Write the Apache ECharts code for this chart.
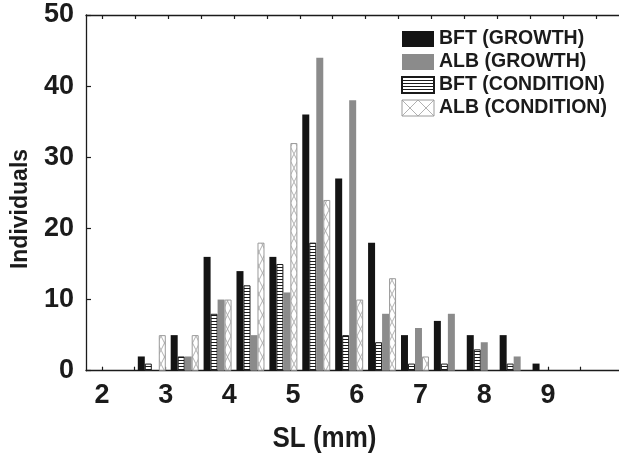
<!DOCTYPE html>
<html>
<head>
<meta charset="utf-8">
<script src="https://cdn.jsdelivr.net/npm/echarts@6/dist/echarts.min.js"></script>
<style>
  html, body { margin: 0; padding: 0; background: #fff; }
  #chart { width: 619px; height: 457px; }
</style>
</head>
<body>
<div id="chart"></div>
<script>
// Standard length bins (mm), one group of four bars per bin
const binCenters = [2.75, 3.25, 3.75, 4.25, 4.75, 5.25, 5.75, 6.25, 6.75, 7.25, 7.75, 8.25, 8.75];
const bftGrowth    = [2, 5, 16, 14, 16, 36, 27, 18, 5, 7, 5, 5, 1];
const bftCondition = [1, 2, 8, 12, 15, 18, 5, 4, 1, 1, 3, 1, 0];
const albGrowth    = [0, 2, 10, 5, 11, 44, 38, 8, 6, 8, 4, 2, 0];
const albCondition = [5, 5, 10, 18, 32, 24, 10, 13, 2, 0, 0, 0, 0];

const seriesNames = ['BFT (GROWTH)', 'BFT (CONDITION)', 'ALB (GROWTH)', 'ALB (CONDITION)'];
const legendOrder = ['BFT (GROWTH)', 'ALB (GROWTH)', 'BFT (CONDITION)', 'ALB (CONDITION)'];
const xTickValues  = [2, 2.5, 3, 3.5, 4, 4.5, 5, 5.5, 6, 6.5, 7, 7.5, 8, 8.5, 9, 9.5];
const xLabelValues = [2, 3, 4, 5, 6, 7, 8, 9];

const FONT = '"Liberation Sans", Arial, Helvetica, sans-serif';
const INK = '#1b1b1b';

// Fill patterns
function stripePattern() {
  const c = document.createElement('canvas');
  c.width = 4; c.height = 3;
  const g = c.getContext('2d');
  g.fillStyle = '#fff'; g.fillRect(0, 0, 4, 3);
  g.fillStyle = '#1a1a1a'; g.fillRect(0, 0, 4, 1);
  return { image: c, repeat: 'repeat' };
}
function crossPattern(w, h) {
  const c = document.createElement('canvas');
  c.width = w; c.height = h;
  const g = c.getContext('2d');
  g.fillStyle = '#fff'; g.fillRect(0, 0, w, h);
  g.strokeStyle = '#a8a8a8'; g.lineWidth = 0.9;
  g.beginPath();
  g.moveTo(0, 0); g.lineTo(w, h);
  g.moveTo(w, 0); g.lineTo(0, h);
  g.stroke();
  return { image: c, repeat: 'repeat' };
}

const styles = {
  'BFT (GROWTH)':    { color: '#141414' },
  'BFT (CONDITION)': { color: stripePattern(), borderColor: '#1a1a1a', borderWidth: 1 },
  'ALB (GROWTH)':    { color: '#8b8b8b' },
  'ALB (CONDITION)': { color: crossPattern(7, 14), borderColor: '#9a9a9a', borderWidth: 1 }
};
const values = {
  'BFT (GROWTH)': bftGrowth,
  'BFT (CONDITION)': bftCondition,
  'ALB (GROWTH)': albGrowth,
  'ALB (CONDITION)': albCondition
};

const chart = echarts.init(document.getElementById('chart'), null, { renderer: 'canvas' });

const axisLine = { show: true, lineStyle: { color: INK, width: 1.3 } };

const option = {
  backgroundColor: '#ffffff',
  animation: false,
  grid: { left: 86, top: 15, width: 541, height: 355.7, containLabel: false },
  legend: {
    orient: 'vertical',
    left: 396,
    top: 24,
    itemWidth: 32,
    itemHeight: 16,
    itemGap: 3,
    icon: 'rect',
    selectedMode: false,
    textStyle: { fontFamily: FONT, fontWeight: 'bold', fontSize: 19.5, color: INK },
    data: legendOrder.map(n => n === 'ALB (CONDITION)'
      ? { name: n, itemStyle: { color: crossPattern(16, 16), borderColor: '#9a9a9a', borderWidth: 1 } }
      : { name: n })
  },
  xAxis: [
    {
      // labelled length axis
      type: 'value',
      position: 'bottom',
      min: 1.75,
      max: 10.116,
      axisLine: axisLine,
      splitLine: { show: false },
      axisTick: { show: true, inside: true, length: 4, customValues: xTickValues, lineStyle: { color: INK, width: 1.2 } },
      axisLabel: {
        customValues: xLabelValues, margin: 11,
        fontFamily: FONT, fontWeight: 'bold', fontSize: 27, color: INK
      }
    },
    {
      // bin placement axis, drawn as the top frame
      type: 'value',
      position: 'top',
      min: 1.75,
      max: 9.851,
      axisLine: axisLine,
      splitLine: { show: false },
      axisTick: { show: true, inside: true, length: 4, customValues: xTickValues, lineStyle: { color: INK, width: 1.2 } },
      axisLabel: { show: false }
    }
  ],
  yAxis: {
    type: 'value',
    min: 0,
    max: 50,
    interval: 10,
    axisLine: axisLine,
    splitLine: { show: false },
    axisTick: { show: true, inside: true, length: 5, lineStyle: { color: INK, width: 1.2 } },
    axisLabel: { margin: 12, fontFamily: FONT, fontWeight: 'bold', fontSize: 27, color: INK }
  },
  series: seriesNames.map(n => ({
    name: n,
    type: 'bar',
    xAxisIndex: 1,
    barWidth: 7,
    barGap: '0%',
    itemStyle: styles[n],
    // empty bins draw nothing
    data: binCenters.map((x, i) => [x, values[n][i] === 0 ? '-' : values[n][i]])
  })),
  graphic: [
    {
      type: 'text', x: 20.5, y: 209, rotation: Math.PI / 2,
      style: { text: 'Individuals', align: 'center', verticalAlign: 'middle',
               font: 'bold 23px ' + FONT, fill: INK }
    },
    {
      type: 'text', x: 324.5, y: 439, scaleY: 1.1,
      style: { text: 'SL (mm)', align: 'center', verticalAlign: 'middle',
               font: 'bold 26px ' + FONT, fill: INK }
    }
  ]
};

chart.setOption(option);
</script>
</body>
</html>
